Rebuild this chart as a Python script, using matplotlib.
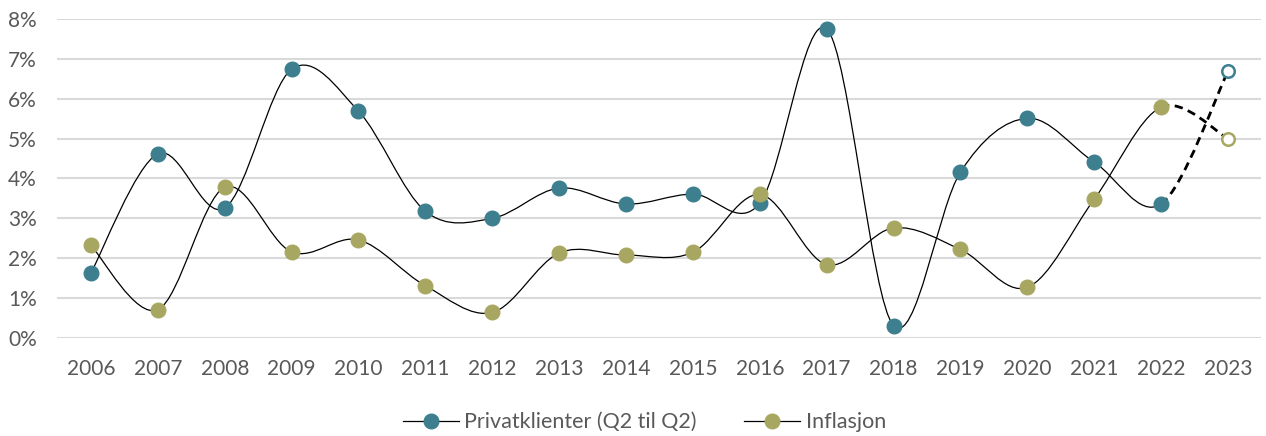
import numpy as np
import matplotlib
matplotlib.use('Agg')
import matplotlib.pyplot as plt
from matplotlib.path import Path
from matplotlib.patches import PathPatch
from matplotlib.lines import Line2D
from matplotlib.ticker import FuncFormatter

plt.rcParams['font.family'] = ['Lato', 'DejaVu Sans']

years = ['2006', '2007', '2008', '2009', '2010', '2011', '2012', '2013', '2014',
         '2015', '2016', '2017', '2018', '2019', '2020', '2021', '2022', '2023']
privat = [1.63, 4.62, 3.26, 6.74, 5.69, 3.18, 3.00, 3.76, 3.36,
          3.61, 3.38, 7.75, 0.31, 4.16, 5.51, 4.41, 3.36, 6.69]
inflasjon = [2.32, 0.71, 3.78, 2.16, 2.46, 1.31, 0.64, 2.13, 2.08,
             2.15, 3.60, 1.84, 2.76, 2.22, 1.27, 3.48, 5.79, 5.00]

teal = '#3D7F8F'
olive = '#A8A762'


def bezier_segments(x, y):
    # Excel-style smoothing: cubic Bezier with Catmull-Rom control points
    n = len(x)
    segs = []
    for i in range(n - 1):
        x0, y0 = (x[i-1], y[i-1]) if i > 0 else (x[i], y[i])
        x3, y3 = (x[i+2], y[i+2]) if i + 2 < n else (x[i+1], y[i+1])
        c1 = (x[i] + (x[i+1] - x0) / 6, y[i] + (y[i+1] - y0) / 6)
        c2 = (x[i+1] - (x3 - x[i]) / 6, y[i+1] - (y3 - y[i]) / 6)
        segs.append([(x[i], y[i]), c1, c2, (x[i+1], y[i+1])])
    return segs


def draw_series(ax, vals, color):
    x = np.arange(len(vals))
    y = np.array(vals) / 100
    segs = bezier_segments(x, y)
    solid_v, solid_c = [], []
    for k, s in enumerate(segs[:-1]):
        if k == 0:
            solid_v.append(s[0]); solid_c.append(Path.MOVETO)
        solid_v += s[1:]; solid_c += [Path.CURVE4] * 3
    ax.add_patch(PathPatch(Path(solid_v, solid_c), fill=False, edgecolor='black',
                           lw=0.9, zorder=3))
    last = segs[-1]
    ax.add_patch(PathPatch(Path(last, [Path.MOVETO] + [Path.CURVE4] * 3), fill=False,
                           edgecolor='black', lw=2.0, ls=(0, (3, 2)), zorder=3))
    ax.plot(x[:-1], y[:-1], 'o', ms=10.5, color=color, mec=color, zorder=4)
    ax.plot(x[-1:], y[-1:], 'o', ms=9, mfc='white', mec=color, mew=1.8, zorder=4)


fig = plt.figure(figsize=(12.66, 4.36), dpi=100)
ax = fig.add_axes([0.0454, 0.2248, 0.951, 0.7316])

draw_series(ax, privat, teal)
draw_series(ax, inflasjon, olive)

ax.set_xlim(-0.5, len(years) - 0.5)
ax.set_ylim(0, 0.08)
ax.set_xticks(np.arange(len(years)))
ax.set_xticklabels(years)
ax.set_yticks(np.arange(0, 0.081, 0.01))
ax.yaxis.set_major_formatter(FuncFormatter(lambda v, p: f'{round(v*100)}%'))
ax.grid(axis='y', color='#D9D9D9', lw=1.5, zorder=0)
ax.set_axisbelow(True)
for s in ax.spines.values():
    s.set_visible(False)
ax.tick_params(length=0, labelsize=15, labelcolor='#595959')
ax.tick_params(axis='x', pad=15)
ax.tick_params(axis='y', pad=15)

handles = [Line2D([], [], color='black', lw=0.9, marker='o', ms=10.5, mfc=teal, mec=teal),
           Line2D([], [], color='black', lw=0.9, marker='o', ms=10.5, mfc=olive, mec=olive)]
fig.legend(handles, ['Privatklienter (Q2 til Q2)', 'Inflasjon'], loc='center',
           bbox_to_anchor=(0.509, 0.032),
           ncol=2, frameon=False, fontsize=15.5,
           labelcolor='#595959', columnspacing=2.2, handlelength=2.6, handletextpad=0.25)

fig.savefig('out.png', dpi=100)
